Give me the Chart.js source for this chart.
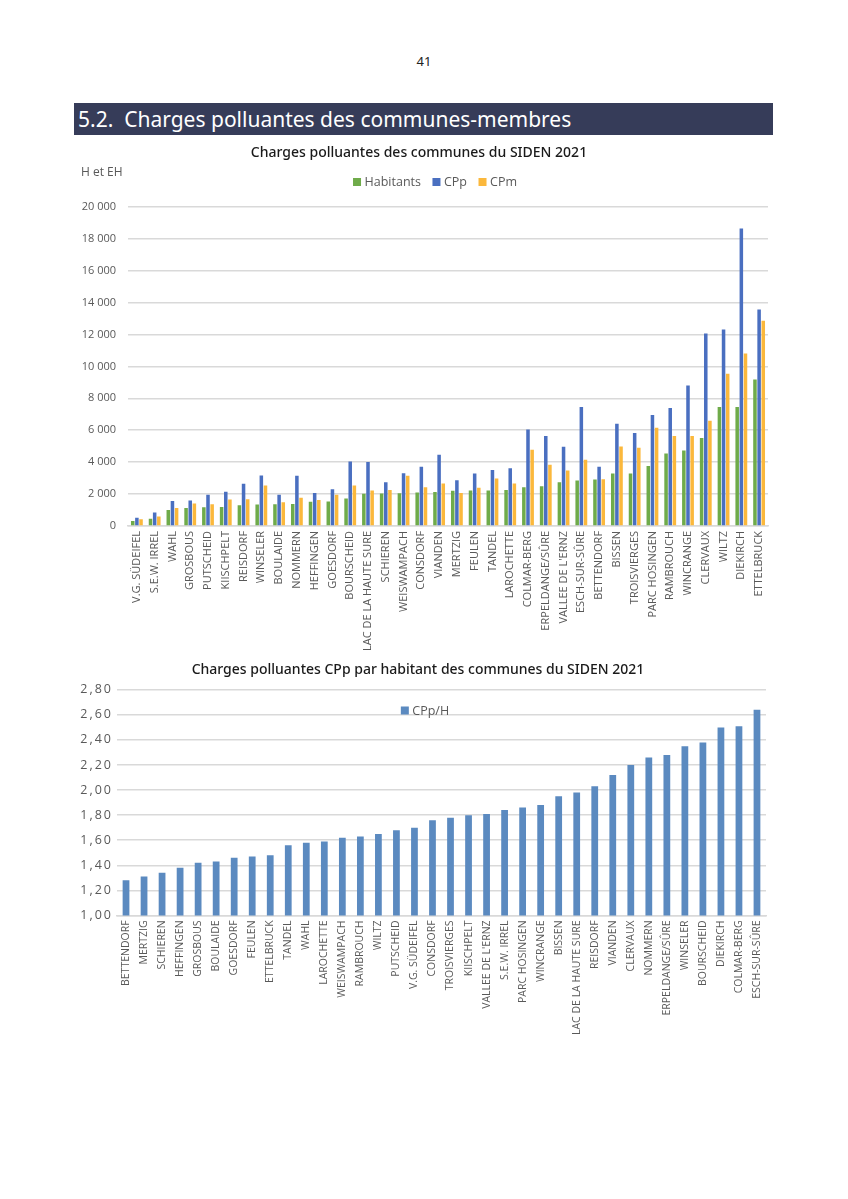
<!DOCTYPE html>
<html><head><meta charset="utf-8">
<script src="https://cdn.jsdelivr.net/npm/chart.js@4/dist/chart.umd.min.js"></script>
<style>
body{margin:0;width:848px;height:1199px;background:#fff;position:relative;font-family:'Noto Sans',sans-serif;overflow:hidden;}
#pg{position:absolute;top:52px;left:0;width:848px;text-align:center;font-size:13px;color:#222;}
#hdr{position:absolute;left:74px;top:103px;width:699px;height:32px;background:#363c59;color:#fff;font-size:21px;line-height:33px;padding-left:4px;box-sizing:border-box;white-space:pre;}
#c1wrap{position:absolute;left:70px;top:140px;width:710px;height:516px;}
#c2wrap{position:absolute;left:70px;top:655px;width:710px;height:385px;}
#yt{position:absolute;left:81px;top:163px;font-size:12px;color:#595959;font-family:'Open Sans',sans-serif;}
</style>
</head><body>
<div id="pg">41</div>
<div id="hdr">5.2.  Charges polluantes des communes-membres</div>
<div id="c1wrap"><canvas id="c1"></canvas></div>
<div id="yt">H et EH</div>
<div id="c2wrap"><canvas id="c2"></canvas></div>
<script>
const communes1 = ["V.G. SÜDEIFEL","S.E.W. IRREL","WAHL","GROSBOUS","PUTSCHEID","KIISCHPELT","REISDORF","WINSELER","BOULAIDE","NOMMERN","HEFFINGEN","GOESDORF","BOURSCHEID","LAC DE LA HAUTE SURE","SCHIEREN","WEISWAMPACH","CONSDORF","VIANDEN","MERTZIG","FEULEN","TANDEL","LAROCHETTE","COLMAR-BERG","ERPELDANGE/SÛRE","VALLEE DE L'ERNZ","ESCH-SUR-SÛRE","BETTENDORF","BISSEN","TROISVIERGES","PARC HOSINGEN","RAMBROUCH","WINCRANGE","CLERVAUX","WILTZ","DIEKIRCH","ETTELBRUCK"];
const habitants = [310,450,1000,1130,1170,1190,1300,1340,1360,1380,1510,1530,1720,2010,2030,2050,2090,2120,2200,2220,2220,2260,2430,2490,2740,2850,2910,3290,3290,3750,4540,4730,5510,7460,7460,9170];
const cpp = [520,840,1570,1590,1950,2140,2640,3160,1950,3140,2070,2300,4040,4000,2740,3310,3710,4460,2870,3290,3500,3620,6050,5630,4960,7460,3710,6410,5820,6950,7390,8800,12060,12310,18640,13570];
const cpm = [420,590,1130,1400,1360,1650,1680,2530,1490,1760,1630,1950,2530,2220,2260,3140,2430,2660,2070,2390,2970,2660,4770,3830,3480,4150,2930,4980,4900,6160,5630,5630,6600,9530,10810,12860];

const communes2 = ["BETTENDORF","MERTZIG","SCHIEREN","HEFFINGEN","GROSBOUS","BOULAIDE","GOESDORF","FEULEN","ETTELBRUCK","TANDEL","WAHL","LAROCHETTE","WEISWAMPACH","RAMBROUCH","WILTZ","PUTSCHEID","V.G. SÜDEIFEL","CONSDORF","TROISVIERGES","KIISCHPELT","VALLEE DE L'ERNZ","S.E.W. IRREL","PARC HOSINGEN","WINCRANGE","BISSEN","LAC DE LA HAUTE SURE","REISDORF","VIANDEN","CLERVAUX","NOMMERN","ERPELDANGE/SÛRE","WINSELER","BOURSCHEID","DIEKIRCH","COLMAR-BERG","ESCH-SUR-SÛRE"];
const cppParH = [1.28,1.31,1.34,1.38,1.42,1.43,1.46,1.47,1.48,1.56,1.58,1.59,1.62,1.63,1.65,1.68,1.70,1.76,1.78,1.80,1.81,1.84,1.86,1.88,1.95,1.98,2.03,2.12,2.20,2.26,2.28,2.35,2.38,2.50,2.51,2.64];

const grey = '#595959';
const gridC = '#d9d9d9';
Chart.defaults.font.family = "'Open Sans', sans-serif";
Chart.defaults.animation = false;

// legend drawn inside the canvas at a chosen spot (centre offset, y)
const fixedLegend = {
  id: 'fixedLegend',
  afterDraw(chart, args, opts) {
    const ctx = chart.ctx;
    ctx.save();
    ctx.font = opts.fontSize + "px 'Open Sans', sans-serif";
    ctx.textBaseline = 'middle';
    const items = chart.data.datasets.map(d => ({label: d.label, color: d.backgroundColor, w: ctx.measureText(d.label).width}));
    const box = 8, gapText = 3.5, gapItem = 11.5;
    let total = 0;
    items.forEach((it, i) => { total += box + gapText + it.w + (i < items.length - 1 ? gapItem : 0); });
    let x = chart.width / 2 + opts.dx - total / 2;
    const y = opts.y;
    items.forEach(it => {
      ctx.fillStyle = it.color;
      ctx.fillRect(x, y - box / 2, box, box);
      x += box + gapText;
      ctx.fillStyle = grey;
      ctx.fillText(it.label, x, y + 0.5);
      x += it.w + gapItem;
    });
    ctx.restore();
  }
};

// wider spaced y tick labels for the second chart
const spacedY = {
  id: 'spacedY',
  afterLayout(chart, args, opts) {
    const s = chart.scales.y;
    if (s._spacedWrapped) return;
    const orig = s.drawLabels.bind(s);
    s.drawLabels = function (ca) {
      const ctx = this.ctx;
      ctx.save();
      ctx.letterSpacing = opts.spacing + 'px';
      orig(ca);
      ctx.restore();
    };
    s._spacedWrapped = true;
  }
};

new Chart(document.getElementById('c1'), {
  type: 'bar',
  data: {
    labels: communes1,
    datasets: [
      {label:'Habitants', data: habitants, backgroundColor:'#6fab4a'},
      {label:'CPp', data: cpp, backgroundColor:'#4a6fc0'},
      {label:'CPm', data: cpm, backgroundColor:'#fbb83c'}
    ]
  },
  plugins: [fixedLegend],
  options: {
    responsive: true, maintainAspectRatio: false,
    datasets: {bar: {categoryPercentage: 0.7, barPercentage: 0.85}},
    layout: {padding: {left: 0, right: 12, top: 0, bottom: 0}},
    plugins: {
      title: {display: true, text: 'Charges polluantes des communes du SIDEN 2021', color: '#1a1a1a',
        font: {family: "'Noto Sans', sans-serif", size: 14, weight: '500'}, padding: {top: 5, bottom: 45}},
      legend: {display: false},
      fixedLegend: {dx: 10, y: 42, fontSize: 12.5},
      tooltip: {enabled: false}
    },
    scales: {
      x: {grid: {display: false, drawTicks: false}, border: {color: gridC, width: 1.5},
          ticks: {color: grey, font: {size: 11}, maxRotation: 90, minRotation: 90, autoSkip: false, padding: 5}},
      y: {min: 0, max: 20000, grid: {color: gridC, lineWidth: 1.5, drawTicks: false}, border: {display: false},
          ticks: {stepSize: 2000, color: grey, font: {size: 11}, padding: 12,
                  callback: v => String(v).replace(/\B(?=(\d{3})+(?!\d))/g, ' ')},
          afterFit: s => { s.width = 58; }}
    }
  }
});

new Chart(document.getElementById('c2'), {
  type: 'bar',
  data: {
    labels: communes2,
    datasets: [{label: 'CPp/H', data: cppParH, backgroundColor: '#5b8ac0'}]
  },
  plugins: [fixedLegend, spacedY],
  options: {
    responsive: true, maintainAspectRatio: false,
    datasets: {bar: {categoryPercentage: 0.75, barPercentage: 0.5}},
    layout: {padding: {left: 0, right: 14, top: 0, bottom: 0}},
    plugins: {
      title: {display: true, text: 'Charges polluantes CPp par habitant des communes du SIDEN 2021', color: '#1a1a1a',
        font: {family: "'Noto Sans', sans-serif", size: 14, weight: '500'}, padding: {top: 7, bottom: 11}},
      legend: {display: false},
      fixedLegend: {dx: 0, y: 55.5, fontSize: 12.5},
      spacedY: {spacing: 2},
      tooltip: {enabled: false}
    },
    scales: {
      x: {grid: {display: false, drawTicks: false}, border: {color: gridC, width: 1.5},
          ticks: {color: grey, font: {size: 10.5}, maxRotation: 90, minRotation: 90, autoSkip: false, padding: 5}},
      y: {min: 1, max: 2.8, grid: {color: gridC, lineWidth: 1.5, drawTicks: false}, border: {display: false},
          ticks: {stepSize: 0.2, color: grey, font: {size: 12.5}, padding: 4,
                  callback: v => v.toFixed(2).replace('.', ',')},
          afterFit: s => { s.width = 47; }}
    }
  }
});
</script>
</body></html>
